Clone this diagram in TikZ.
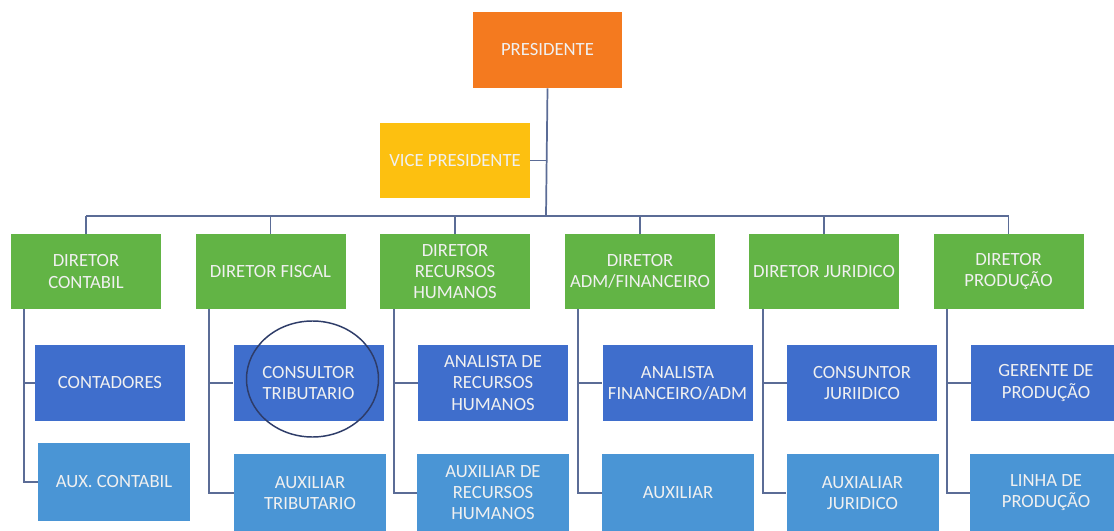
\documentclass[tikz,border=0pt]{standalone}
\usepackage{fontspec}
\setmainfont{Carlito}
\definecolor{presorange}{HTML}{F47A1F}
\definecolor{viceyellow}{HTML}{FDC010}
\definecolor{dirgreen}{HTML}{62B445}
\definecolor{subdark}{HTML}{3F6ECC}
\definecolor{sublight}{HTML}{4A95D5}
\definecolor{linkgray}{HTML}{5B6C96}
\definecolor{ringnavy}{HTML}{2E3C68}
\begin{document}
\begin{tikzpicture}[x=0.75pt,y=-0.75pt,
    box/.style={minimum width=112.5pt, minimum height=56.25pt, inner sep=1pt,
        align=center, text=white!94!black, font=\fontsize{14}{15.8}\selectfont},
    presbox/.style={box, fill=presorange, minimum width=111.75pt, minimum height=57pt},
    vicebox/.style={box, fill=viceyellow},
    dirbox/.style={box, fill=dirgreen},
    darkbox/.style={box, fill=subdark, minimum height=57pt},
    lightbox/.style={box, fill=sublight, minimum width=114pt, minimum height=58.5pt},
    link/.style={draw=linkgray, line width=1.3pt}]
    \useasboundingbox (0,0) rectangle (1114,531);
    \clip (0,0) rectangle (1114,531);
    \fill [white] (0,0) rectangle (1114,531);
    % top of the chart
    \node [presbox] (pres) at (547.5,50) {PRESIDENTE};
    \node [vicebox] (vice) at (455,160.5) {VICE PRESIDENTE};
    \coordinate (bus) at (546,216);
    % directors
    \node [dirbox] (dcont) at (86,271.5) {DIRETOR\\CONTABIL};
    \node [dirbox] (dfisc) at (270.5,271.5) {DIRETOR FISCAL};
    \node [dirbox] (drh) at (455,271.5) {DIRETOR\\RECURSOS\\HUMANOS};
    \node [dirbox] (dadm) at (640,271.5) {DIRETOR\\ADM/FINANCEIRO};
    \node [dirbox] (djur) at (824,271.5) {DIRETOR JURIDICO};
    \node [dirbox] (dprod) at (1008.5,271.5) {DIRETOR\\PRODUÇÃO};
    % first row under the directors
    \node [darkbox] (cont) at (110,383) {CONTADORES};
    \node [darkbox] (ctrib) at (308.5,383) {CONSULTOR\\TRIBUTARIO};
    \node [darkbox] (anrh) at (493,383) {ANALISTA DE\\RECURSOS\\HUMANOS};
    \node [darkbox] (anfin) at (677.5,383) {ANALISTA\\FINANCEIRO/ADM};
    \node [darkbox] (cjur) at (862,383) {CONSUNTOR\\JURIIDICO};
    \node [darkbox] (gprod) at (1046,383) {GERENTE DE\\PRODUÇÃO};
    % second row under the directors
    \node [lightbox] (auxc) at (114,482) {AUX. CONTABIL};
    \node [lightbox] (auxt) at (310,493) {AUXILIAR\\TRIBUTARIO};
    \node [lightbox] (auxrh) at (493,493) {AUXILIAR DE\\RECURSOS\\HUMANOS};
    \node [lightbox] (aux) at (678,493) {AUXILIAR};
    \node [lightbox] (auxj) at (862.5,493) {AUXIALIAR\\JURIDICO};
    \node [lightbox] (linha) at (1046,493) {LINHA DE\\PRODUÇÃO};
    % connectors
    \draw [link] (pres.south) -- (bus);
    \draw [link] (vice.east) -- (vice.east -| bus);
    \draw [link] (dcont.north |- bus) -- (dprod.north |- bus);
    \draw [link] (dcont.north) -- (dcont.north |- bus);
    \draw [link] (dfisc.north) -- (dfisc.north |- bus);
    \draw [link] (drh.north) -- (drh.north |- bus);
    \draw [link] (dadm.north) -- (dadm.north |- bus);
    \draw [link] (djur.north) -- (djur.north |- bus);
    \draw [link] (dprod.north) -- (dprod.north |- bus);
    \draw [link] (dcont.south west) ++(13,0) |- (cont.west);
    \draw [link] (dcont.south west) ++(13,0) |- (auxc.west);
    \draw [link] (dfisc.south west) ++(14,0) |- (ctrib.west);
    \draw [link] (dfisc.south west) ++(14,0) |- (auxt.west);
    \draw [link] (drh.south west) ++(14,0) |- (anrh.west);
    \draw [link] (drh.south west) ++(14,0) |- (auxrh.west);
    \draw [link] (dadm.south west) ++(13,0) |- (anfin.west);
    \draw [link] (dadm.south west) ++(13,0) |- (aux.west);
    \draw [link] (djur.south west) ++(14,0) |- (cjur.west);
    \draw [link] (djur.south west) ++(14,0) |- (auxj.west);
    \draw [link] (dprod.south west) ++(14,0) |- (gprod.west);
    \draw [link] (dprod.south west) ++(14,0) |- (linha.west);
    % ring round the tax consultant
    \draw [ringnavy, line width=1.1pt] ([shift={(4,-4)}]ctrib.center) ellipse [x radius=49.5pt, y radius=43.5pt];
\end{tikzpicture}
\end{document}
